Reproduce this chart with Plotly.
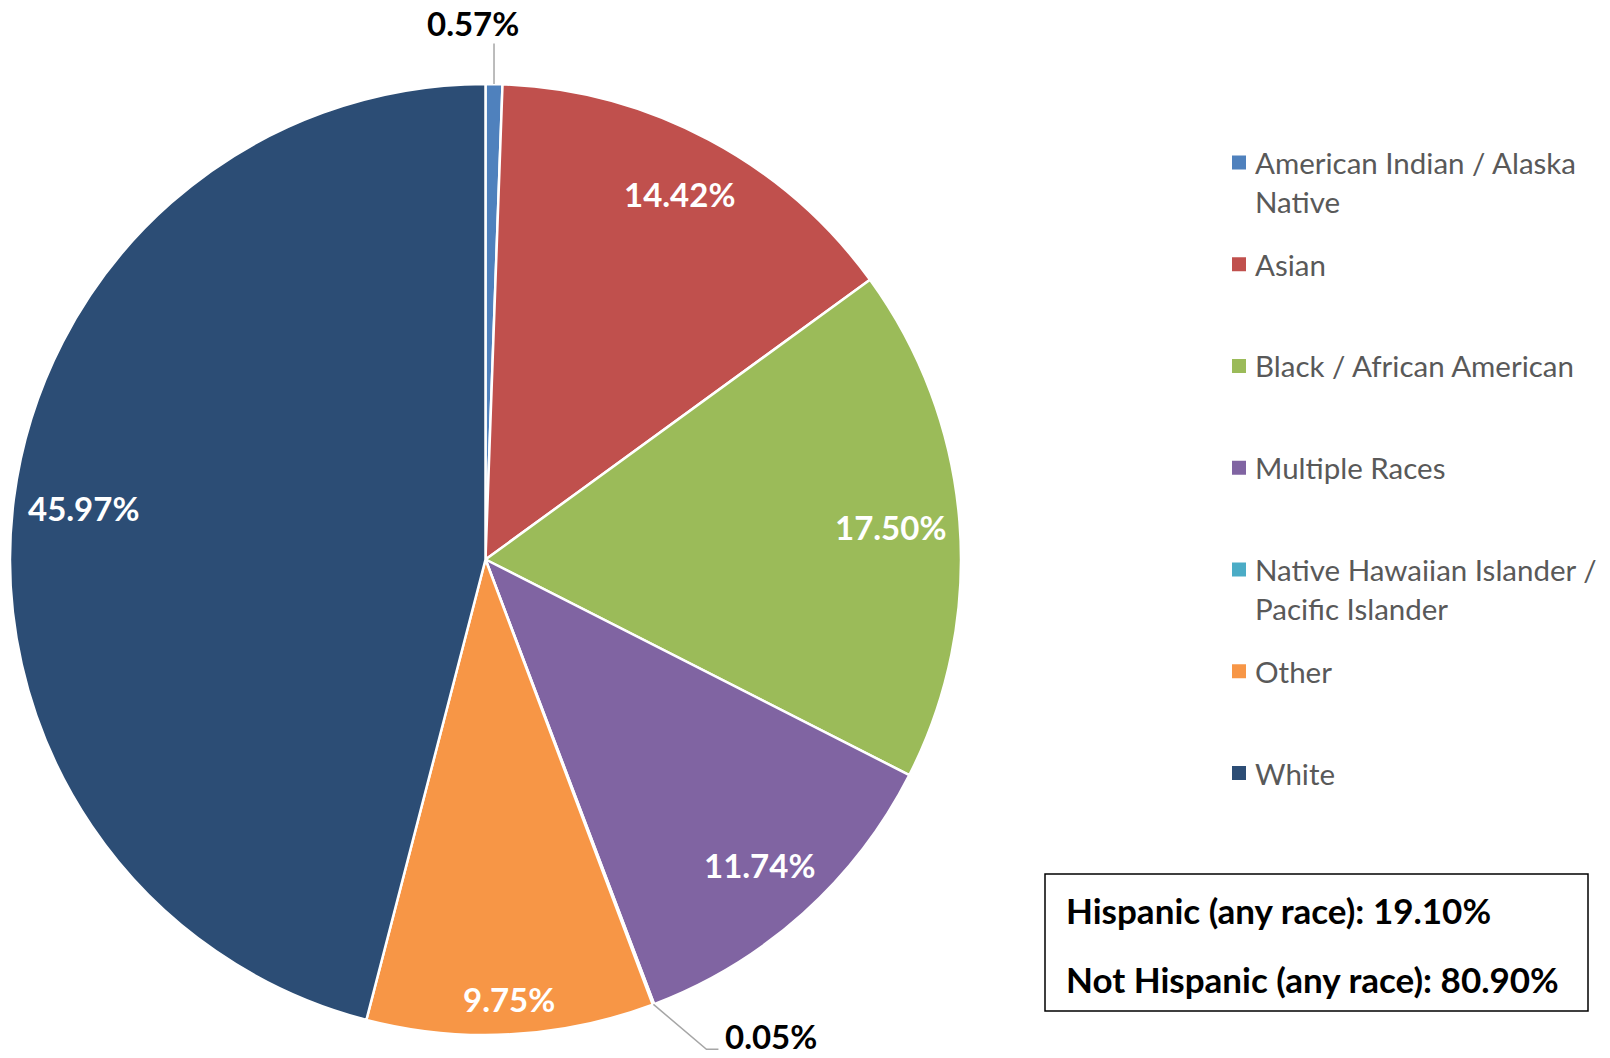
import math
import plotly.graph_objects as go

# ---- data ----
categories = ["American Indian / Alaska Native", "Asian", "Black / African American",
              "Multiple Races", "Native Hawaiian Islander / Pacific Islander", "Other", "White"]
legend_lines = [["American Indian / Alaska", "Native"], ["Asian"], ["Black / African American"],
                ["Multiple Races"], ["Native Hawaiian Islander /", "Pacific Islander"], ["Other"], ["White"]]
values = [0.57, 14.42, 17.50, 11.74, 0.05, 9.75, 45.97]
colors = ["#4F81BD", "#C0504D", "#9BBB59", "#8064A2", "#4BACC6", "#F79646", "#2C4D75"]
hispanic_lines = ["Hispanic (any race): 19.10%", "Not Hispanic (any race): 80.90%"]

# ---- layout parameters ----
W, H = 1610, 1058
CX, CY, R = 485.5, 559.5, 475.5
label_r = [None, 0.87, 0.855, 0.863, None, 0.925, 0.853]   # inside label radial fraction
FONT = "Lato, Carlito, Calibri, sans-serif"

def px(x):
    return x / W

def py(y):
    return 1 - y / H

fig = go.Figure(go.Pie(
    labels=categories, values=values, sort=False, direction="clockwise", rotation=0,
    marker=dict(colors=colors, line=dict(color="white", width=2.5)),
    textinfo="none", showlegend=False, hoverinfo="label+percent",
    domain=dict(x=[px(CX - R), px(CX + R)], y=[py(CY + R), py(CY - R)]),
))

annotations = []
shapes = []
total = sum(values)
cum = 0.0
for i, v in enumerate(values):
    mid = (cum + v / 2) / total * 2 * math.pi
    cum += v
    sx, sy = math.sin(mid), -math.cos(mid)
    txt = f"{v:.2f}%"
    if label_r[i] is not None:
        lx, ly = CX + sx * R * label_r[i], CY + sy * R * label_r[i]
        annotations.append(dict(x=px(lx), y=py(ly), xref="paper", yref="paper", text=f"<b>{txt}</b>",
                                showarrow=False, font=dict(family=FONT, size=33, color="white"),
                                xanchor="center", yanchor="middle"))
    else:
        ex, ey = CX + sx * R, CY + sy * R
        if i == 0:
            lx, ly = ex - 21, 22.5
            shapes.append(dict(type="line", xref="paper", yref="paper", x0=px(ex), y0=py(ey),
                               x1=px(ex), y1=py(ly + 21), line=dict(color="#A6A6A6", width=1.5)))
            annotations.append(dict(x=px(lx), y=py(ly), xref="paper", yref="paper", text=f"<b>{txt}</b>",
                                    showarrow=False, font=dict(family=FONT, size=33, color="black"),
                                    xanchor="center", yanchor="middle"))
        else:
            left, ly = ex + 70, ey + 32
            path = (f"M {px(ex)} {py(ey)} L {px(left - 17)} {py(ly + 13)} L {px(left - 5)} {py(ly + 13)}")
            shapes.append(dict(type="path", xref="paper", yref="paper", path=path,
                               line=dict(color="#A6A6A6", width=1.5)))
            annotations.append(dict(x=px(left), y=py(ly), xref="paper", yref="paper", text=f"<b>{txt}</b>",
                                    showarrow=False, font=dict(family=FONT, size=33, color="black"),
                                    xanchor="left", yanchor="middle"))

# ---- legend (manual, Excel-like spacing) ----
LEG_X, LEG_Y0, LEG_STEP, LEG_LINE = 1239, 162.5, 101.75, 39
for i, lines in enumerate(legend_lines):
    yc = LEG_Y0 + i * LEG_STEP
    shapes.append(dict(type="rect", xref="paper", yref="paper", x0=px(LEG_X - 7), x1=px(LEG_X + 7),
                       y0=py(yc - 7), y1=py(yc + 7), fillcolor=colors[i], line=dict(width=0)))
    for j, line in enumerate(lines):
        annotations.append(dict(x=px(LEG_X + 14), y=py(yc + j * LEG_LINE), xref="paper", yref="paper",
                                text=line, showarrow=False, xanchor="left", yanchor="middle",
                                font=dict(family=FONT, size=29.5, color="#595959")))

# ---- Hispanic box ----
shapes.append(dict(type="rect", xref="paper", yref="paper", x0=px(1045), x1=px(1588), y0=py(1011), y1=py(874),
                   line=dict(color="black", width=1.5), fillcolor="rgba(0,0,0,0)"))
for j, line in enumerate(hispanic_lines):
    annotations.append(dict(x=px(1064), y=py(910 + j * 69), xref="paper", yref="paper", text=f"<b>{line}</b>",
                            showarrow=False, xanchor="left", yanchor="middle",
                            font=dict(family=FONT, size=35, color="black")))

fig.update_layout(
    width=W, height=H, margin=dict(l=0, r=0, t=0, b=0),
    paper_bgcolor="white", plot_bgcolor="white",
    annotations=annotations, shapes=shapes,
)
fig.write_html("out.html", config={"displayModeBar": False},
               post_script="document.body.style.margin='0';document.body.style.overflow='hidden';")
